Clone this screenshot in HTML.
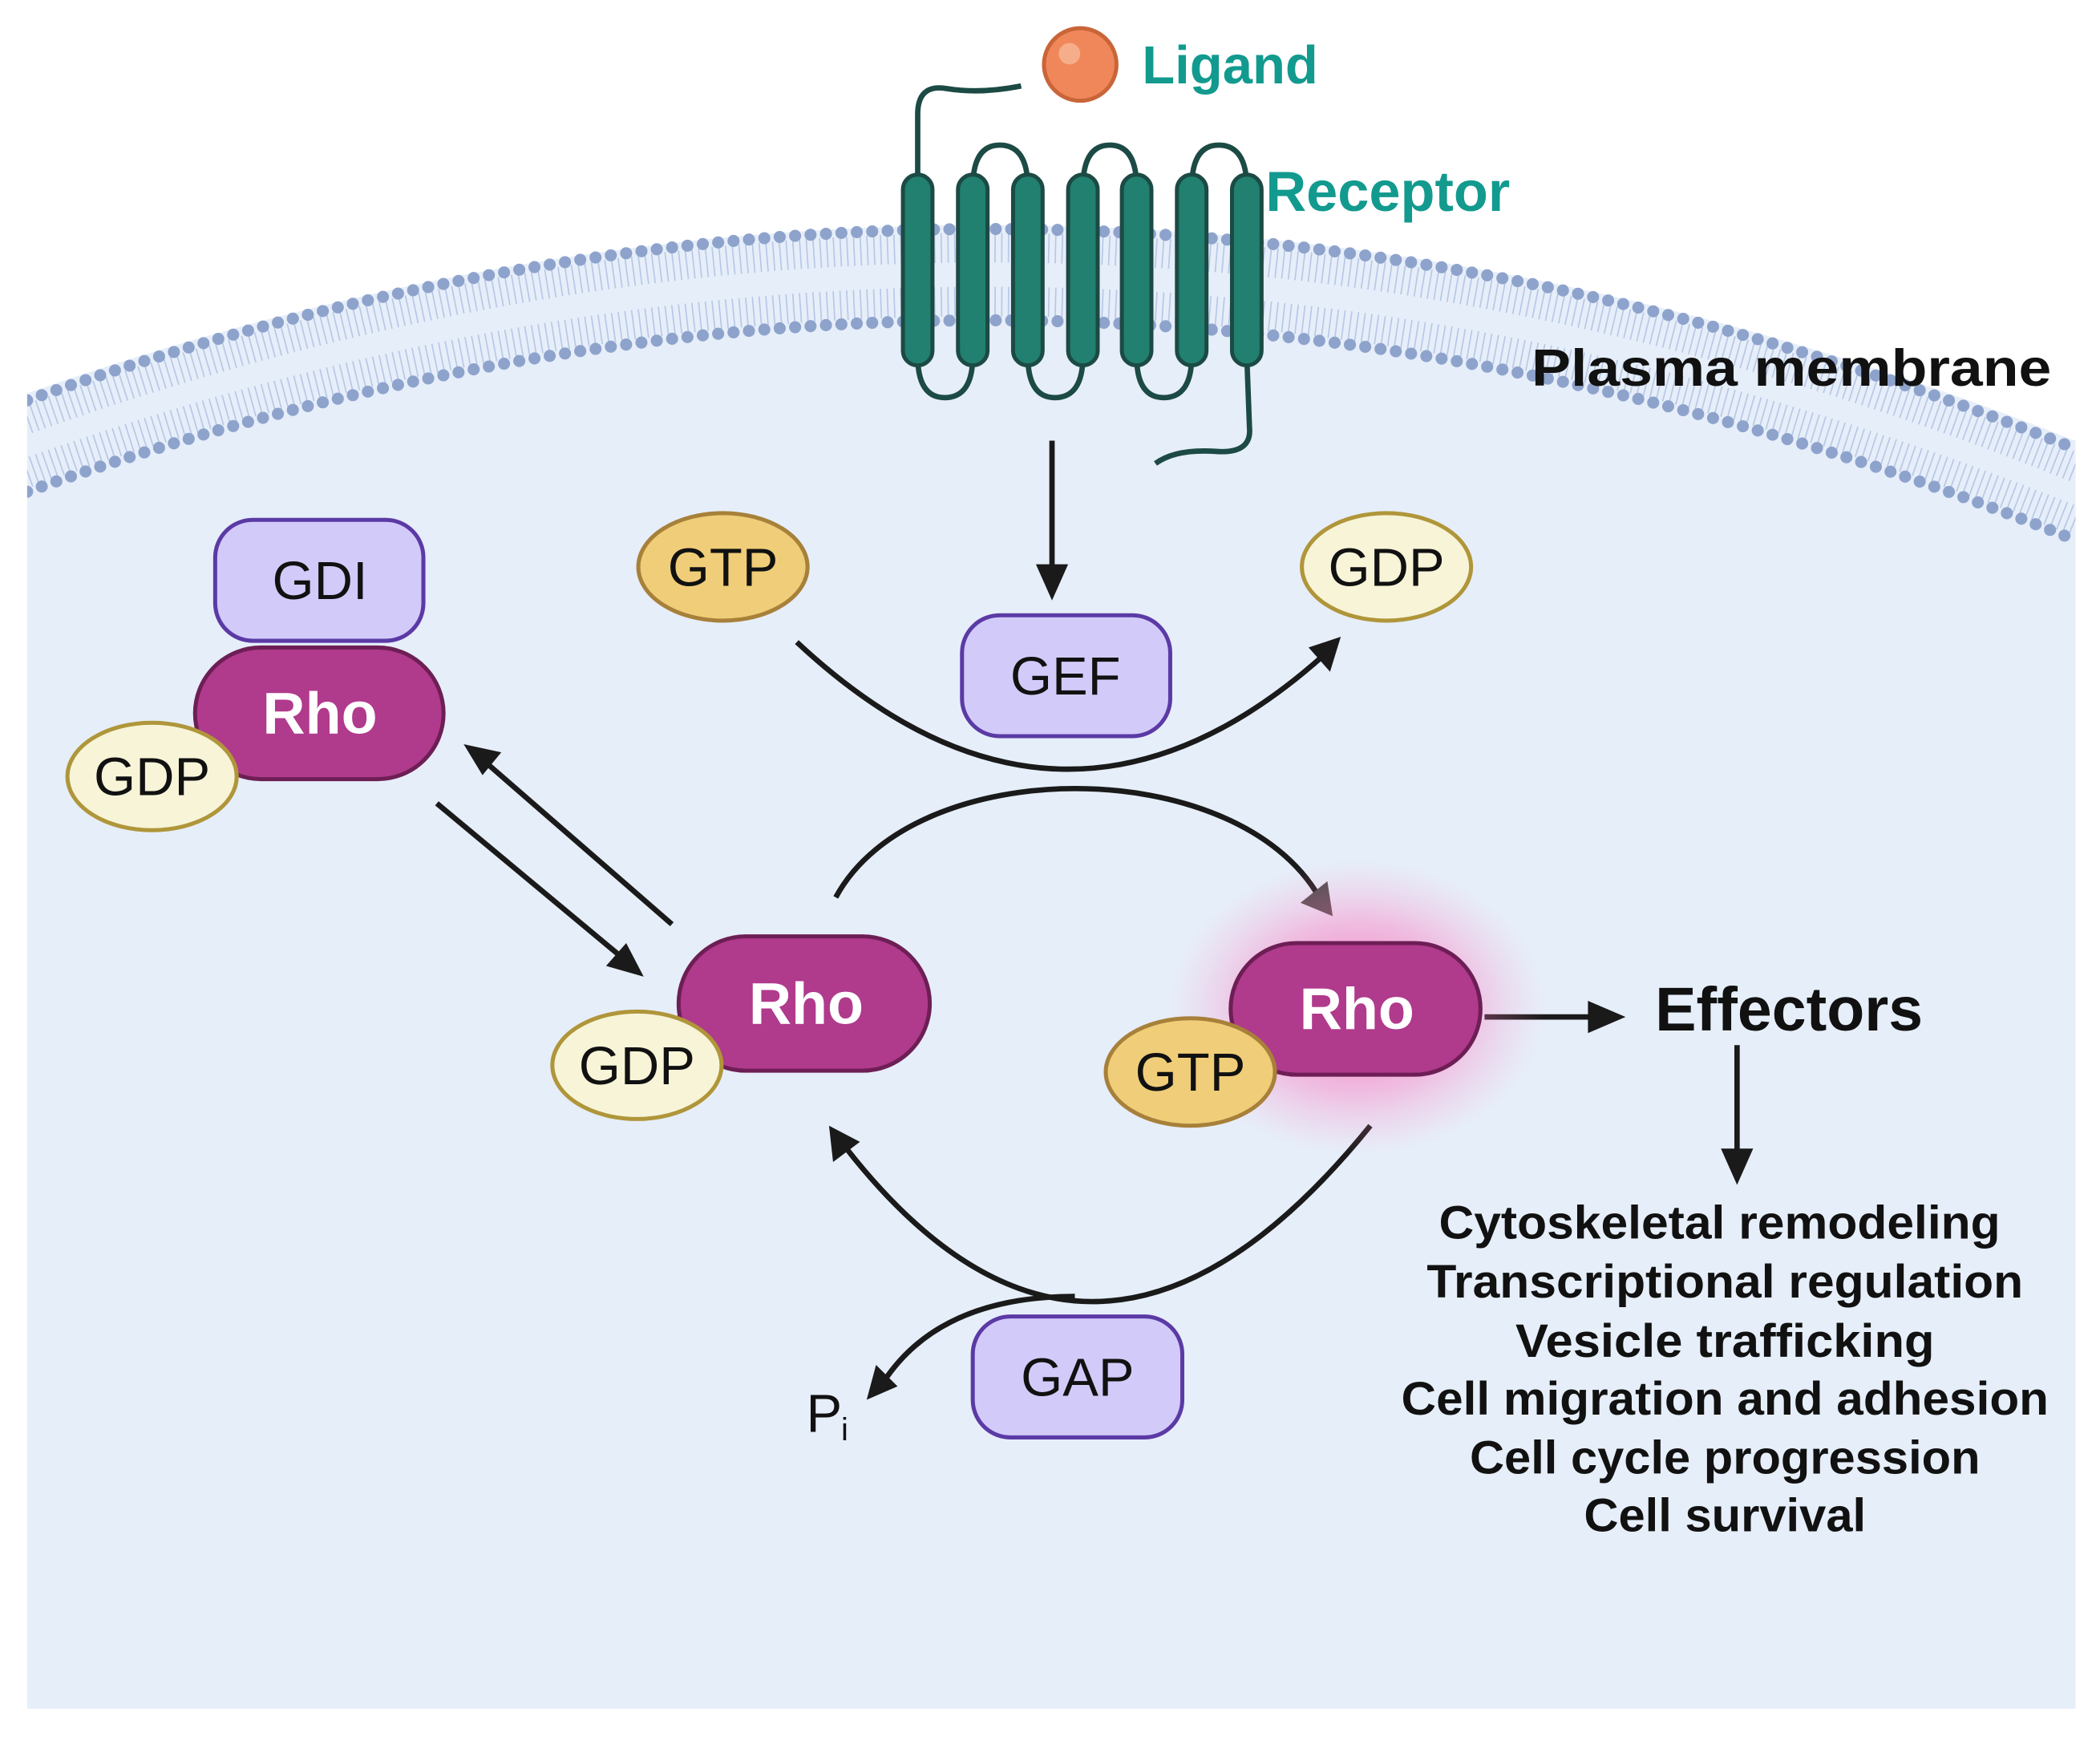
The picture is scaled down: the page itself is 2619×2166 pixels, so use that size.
<!DOCTYPE html>
<html><head><meta charset="utf-8"><style>
html,body{margin:0;padding:0;background:#fff}
svg{display:block}
text{font-family:"Liberation Sans",Arial,sans-serif}
</style></head><body>
<svg width="2619" height="2166" viewBox="0 0 1563 1293" xmlns="http://www.w3.org/2000/svg">
<defs>
<clipPath id="cc"><rect x="20" y="0" width="1525" height="1293"/></clipPath>
<radialGradient id="glow" cx="0.5" cy="0.5" r="0.5">
<stop offset="0" stop-color="#ff3ca0" stop-opacity="0.75"/>
<stop offset="0.6" stop-color="#ff6ab8" stop-opacity="0.35"/>
<stop offset="1" stop-color="#ff9ccf" stop-opacity="0"/>
</radialGradient>
</defs>
<rect width="1563" height="1293" fill="#fff"/>
<path d="M20,332 Q782,60 1545,368 L1545,1272 L20,1272 Z" fill="#e6eef9"/>
<g clip-path="url(#cc)">
<path d="M20,332 Q782,60 1545,368" fill="none" stroke="#e6eef9" stroke-width="74"/>
<g fill="none">
<path d="M20,312 Q782,40 1545,348" stroke="#b7c7e6" stroke-width="22" stroke-dasharray="1 4"/>
<path d="M20,352 Q782,80 1545,388" stroke="#b7c7e6" stroke-width="22" stroke-dasharray="1 4"/>
<path d="M20,298 Q782,26 1545,334" stroke="#8ea3cc" stroke-width="9" stroke-linecap="round" stroke-dasharray="0 11.5"/>
<path d="M20,366 Q782,94 1545,402" stroke="#8ea3cc" stroke-width="9" stroke-linecap="round" stroke-dasharray="0 11.5"/>
</g>
</g>
<g fill="none" stroke="#1c4a44" stroke-width="4">
<path d="M683,140 L683,85 Q683,62 705,66 Q730,70 760,64"/>
<path d="M724,140 Q724,108 744,108 Q765,108 765,140"/>
<path d="M806,140 Q806,108 826,108 Q846,108 846,140"/>
<path d="M887,140 Q887,108 907,108 Q928,108 928,140"/>
<path d="M683,265 Q683,296 703,296 Q724,296 724,265"/>
<path d="M765,265 Q765,296 785,296 Q806,296 806,265"/>
<path d="M846,265 Q846,296 866,296 Q887,296 887,265"/>
<path d="M928,265 L930,318 Q932,338 905,336 Q875,334 860,345"/>
</g>
<g fill="#21806f" stroke="#1c4a44" stroke-width="3">
<rect x="672" y="130" width="22" height="142" rx="11"/>
<rect x="713" y="130" width="22" height="142" rx="11"/>
<rect x="754" y="130" width="22" height="142" rx="11"/>
<rect x="795" y="130" width="22" height="142" rx="11"/>
<rect x="835" y="130" width="22" height="142" rx="11"/>
<rect x="876" y="130" width="22" height="142" rx="11"/>
<rect x="917" y="130" width="22" height="142" rx="11"/>
</g>
<circle cx="804" cy="48" r="27" fill="#f0875a" stroke="#c96538" stroke-width="3"/>
<circle cx="796" cy="40" r="8" fill="#f6ad8a"/>
<text x="850" y="62" font-size="40" font-weight="bold" fill="#139a8f">Ligand</text>
<text x="942" y="157" font-size="42" font-weight="bold" fill="#139a8f">Receptor</text>
<text x="1140" y="287" font-size="39" font-weight="bold" fill="#111" textLength="387" lengthAdjust="spacingAndGlyphs">Plasma membrane</text>
<g fill="none" stroke="#1a1a1a" stroke-width="4">
<line x1="783" y1="328" x2="783" y2="425"/>
<path d="M593,478 Q790,662 985,488"/>
<path d="M622,668 C680,560 920,560 982,668"/>
<path d="M1020,838 Q815,1091 630,855"/>
<path d="M800,965 Q700,965 658,1028"/>
<line x1="500" y1="688" x2="362" y2="568"/>
<line x1="325" y1="598" x2="462" y2="712"/>
<line x1="1105" y1="757" x2="1185" y2="757"/>
<line x1="1293" y1="778" x2="1293" y2="858"/>
</g>
<g fill="#1a1a1a">
<polygon points="783,447 771,420 795,420"/>
<polygon points="998,474 990,500 974,482"/>
<polygon points="992,682 968,672 988,656" fill="#4a4a4a"/>
<polygon points="617,838 640,850 620,865"/>
<polygon points="645,1042 652,1016 668,1032"/>
<polygon points="345,554 373,560 359,577"/>
<polygon points="479,727 451,719 466,702"/>
<polygon points="1210,757 1182,745 1182,769"/>
<polygon points="1293,882 1281,855 1305,855"/>
</g>
<text x="600" y="1066" font-size="40" fill="#111">P</text>
<text x="626" y="1072" font-size="24" fill="#111">i</text>
<ellipse cx="538" cy="422" rx="63" ry="40" fill="#f0cd78" stroke="#a7803a" stroke-width="3"/>
<text x="538" y="436" font-size="40" text-anchor="middle" fill="#111">GTP</text>
<ellipse cx="1032" cy="422" rx="63" ry="40" fill="#f7f4d8" stroke="#b0963a" stroke-width="3"/>
<text x="1032" y="436" font-size="40" text-anchor="middle" fill="#111">GDP</text>
<rect x="716" y="458" width="155" height="90" rx="28" fill="#d2cbfa" stroke="#5b3aa5" stroke-width="3"/>
<text x="793" y="517" font-size="40" text-anchor="middle" fill="#111">GEF</text>
<rect x="724" y="980" width="156" height="90" rx="28" fill="#d2cbfa" stroke="#5b3aa5" stroke-width="3"/>
<text x="802" y="1039" font-size="40" text-anchor="middle" fill="#111">GAP</text>
<rect x="160" y="387" width="155" height="90" rx="28" fill="#d2cbfa" stroke="#5b3aa5" stroke-width="3"/>
<text x="238" y="446" font-size="40" text-anchor="middle" fill="#111">GDI</text>
<rect x="145" y="482" width="185" height="98" rx="49" fill="#b03a8c" stroke="#6d1f55" stroke-width="3"/>
<text x="238" y="546" font-size="44" font-weight="bold" text-anchor="middle" fill="#fff">Rho</text>
<ellipse cx="113" cy="578" rx="63" ry="40" fill="#f7f4d8" stroke="#b0963a" stroke-width="3"/>
<text x="113" y="592" font-size="40" text-anchor="middle" fill="#111">GDP</text>
<rect x="505" y="697" width="187" height="100" rx="50" fill="#b03a8c" stroke="#6d1f55" stroke-width="3"/>
<text x="600" y="762" font-size="44" font-weight="bold" text-anchor="middle" fill="#fff">Rho</text>
<ellipse cx="474" cy="793" rx="63" ry="40" fill="#f7f4d8" stroke="#b0963a" stroke-width="3"/>
<text x="474" y="807" font-size="40" text-anchor="middle" fill="#111">GDP</text>
<ellipse cx="1010" cy="750" rx="140" ry="110" fill="url(#glow)"/>
<rect x="916" y="702" width="186" height="98" rx="49" fill="#b03a8c" stroke="#6d1f55" stroke-width="3"/>
<text x="1010" y="766" font-size="44" font-weight="bold" text-anchor="middle" fill="#fff">Rho</text>
<ellipse cx="886" cy="798" rx="63" ry="40" fill="#f0cd78" stroke="#a7803a" stroke-width="3"/>
<text x="886" y="812" font-size="40" text-anchor="middle" fill="#111">GTP</text>
<text x="1232" y="767" font-size="46" font-weight="bold" fill="#111">Effectors</text>
<g font-size="35" font-weight="bold" text-anchor="middle" fill="#111" lengthAdjust="spacingAndGlyphs">
<text x="1280" y="922" textLength="418" lengthAdjust="spacingAndGlyphs">Cytoskeletal remodeling</text>
<text x="1284" y="966" textLength="444" lengthAdjust="spacingAndGlyphs">Transcriptional regulation</text>
<text x="1284" y="1010" textLength="312" lengthAdjust="spacingAndGlyphs">Vesicle trafficking</text>
<text x="1284" y="1053" textLength="482" lengthAdjust="spacingAndGlyphs">Cell migration and adhesion</text>
<text x="1284" y="1097" textLength="380" lengthAdjust="spacingAndGlyphs">Cell cycle progression</text>
<text x="1284" y="1140" textLength="210" lengthAdjust="spacingAndGlyphs">Cell survival</text>
</g>
</svg>
</body></html>
